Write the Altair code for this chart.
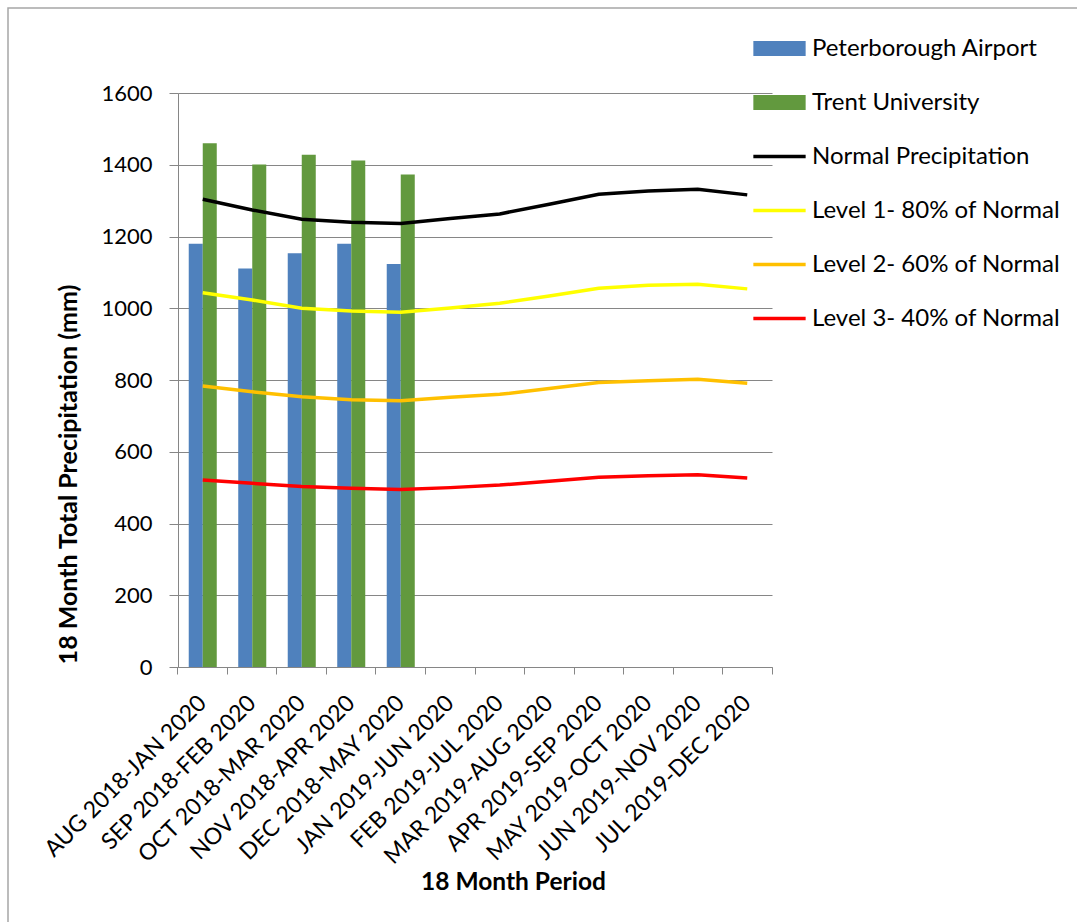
import altair as alt
import pandas as pd

categories = [
    "AUG 2018-JAN 2020", "SEP 2018-FEB 2020", "OCT 2018-MAR 2020",
    "NOV 2018-APR 2020", "DEC 2018-MAY 2020", "JAN 2019-JUN 2020",
    "FEB 2019-JUL 2020", "MAR 2019-AUG 2020", "APR 2019-SEP 2020",
    "MAY 2019-OCT 2020", "JUN 2019-NOV 2020", "JUL 2019-DEC 2020",
]
peterborough = [1180, 1111, 1153, 1180, 1123]
trent = [1460, 1401, 1428, 1412, 1373]
normal = [1304, 1274, 1248, 1240, 1236, 1250, 1263, 1290, 1318, 1327, 1332, 1316]
level1 = [1043, 1023, 1000, 992, 989, 1001, 1014, 1034, 1056, 1064, 1067, 1054]
level2 = [783, 767, 753, 745, 742, 752, 760, 776, 793, 798, 802, 791]
level3 = [521, 512, 503, 498, 495, 500, 507, 518, 529, 533, 536, 527]

bar_series = ["Peterborough Airport", "Trent University"]
line_series = ["Normal Precipitation", "Level 1- 80% of Normal",
               "Level 2- 60% of Normal", "Level 3- 40% of Normal"]
all_series = bar_series + line_series
bar_colors = ["#4F81BD", "#62993E"]
line_colors = ["#000000", "#FFFF00", "#FFC000", "#FF0000"]

rows = []
for name, vals in zip(bar_series, [peterborough, trent]):
    for c, v in zip(categories, vals):
        rows.append({"series": name, "period": c, "value": v})
for name, vals in zip(line_series, [normal, level1, level2, level3]):
    for c, v in zip(categories, vals):
        rows.append({"series": name, "period": c, "value": v})
df = pd.DataFrame(rows)

FONT = "Lato"
GRID = "#868686"
P_IN = 0.434
P_OUT = 0.217
# tick positions at category boundaries, expressed relative to the inner band
edge = (P_IN / 2) / (1 - P_IN)

x_scale = alt.Scale(domain=categories, paddingInner=P_IN, paddingOuter=P_OUT)
y_scale = alt.Scale(domain=[0, 1600], nice=False)
y_axis = alt.Axis(
    values=list(range(0, 1601, 200)), format="d", grid=True, gridColor=GRID, gridWidth=1,
    domainColor=GRID, tickColor=GRID, tickSize=9, labelPadding=17,
    labelFont=FONT, labelFontSize=22, labelColor="#000000",
    title="18 Month Total Precipitation (mm)", titleFont=FONT, titleFontSize=25,
    titleFontWeight="bold", titleColor="#000000", titleAngle=270,
    titleX=-110, titleY=381, titleAlign="center", titleBaseline="middle",
)

bar_path = "M-1,-0.29H1V0.29H-1Z"
line_path = "M-1,-0.065H1V0.065H-1Z"
legend = alt.Legend(
    orient="none", legendX=575, legendY=-71, title=None,
    symbolSize=2735, symbolStrokeWidth=0, symbolOpacity=1,
    labelFont=FONT, labelFontSize=24, labelColor="#000000", labelLimit=400,
    rowPadding=15, labelOffset=6, padding=0,
)

bars = alt.Chart(df).transform_filter(
    alt.FieldOneOfPredicate(field="series", oneOf=bar_series)
).mark_bar().encode(
    x=alt.X("period:N", scale=x_scale, sort=categories,
            axis=alt.Axis(orient="bottom", labelAngle=-45, labelAlign="right",
                          labelBaseline="middle", labelFont=FONT, labelFontSize=23,
                          labelColor="#000000", ticks=False, tickSize=0, domain=False,
                          grid=False, labelPadding=32, labelLimit=400,
                          title="18 Month Period", titleFont=FONT, titleFontSize=24.5,
                          titleFontWeight="bold", titleColor="#000000",
                          titleX=335, titleY=222, titleAlign="center",
                          titleBaseline="alphabetic")),
    xOffset=alt.XOffset("series:N", scale=alt.Scale(domain=bar_series, paddingInner=0, paddingOuter=0)),
    y=alt.Y("value:Q", scale=y_scale, axis=y_axis),
    fill=alt.Fill("series:N", scale=alt.Scale(domain=bar_series, range=bar_colors), legend=None),
)

lines = alt.Chart(df).transform_filter(
    alt.FieldOneOfPredicate(field="series", oneOf=line_series)
).mark_line(strokeWidth=3.5).encode(
    x=alt.X("period:N", scale=x_scale, sort=categories,
            axis=alt.Axis(orient="bottom", bandPosition=-edge, labels=False, ticks=True,
                          tickSize=7, tickColor=GRID, domain=True, domainColor=GRID,
                          grid=False, title=None)),
    y=alt.Y("value:Q", scale=y_scale, axis=y_axis),
    stroke=alt.Stroke("series:N", scale=alt.Scale(domain=line_series, range=line_colors), legend=None),
    detail="series:N",
)

legend_pts = alt.Chart(df).transform_filter("false").mark_point(
    filled=True, opacity=1, strokeWidth=0
).encode(
    x=alt.X("period:N", scale=x_scale, sort=categories,
            axis=alt.Axis(orient="bottom", bandPosition=1 + edge, values=[categories[-1]],
                          labels=False, ticks=True, tickSize=7, tickColor=GRID,
                          domain=False, grid=False, title=None)),
    y=alt.Y("value:Q", scale=y_scale, axis=y_axis),
    color=alt.Color("series:N", scale=alt.Scale(domain=all_series, range=bar_colors + line_colors), legend=legend),
    shape=alt.Shape("series:N", scale=alt.Scale(domain=all_series, range=[bar_path, bar_path] + [line_path] * 4), legend=legend),
)

frame = alt.Chart(pd.DataFrame({"a": [0]})).mark_rect(
    fillOpacity=0, stroke="#A6A6A6", strokeWidth=1.5
).encode(
    x=alt.value(-170), x2=alt.value(910), y=alt.value(-85), y2=alt.value(840)
)

chart = alt.layer(frame, bars, lines, legend_pts).resolve_axis(x="independent").properties(
    width=594, height=574,
    padding={"left": 178, "top": 93, "right": 305, "bottom": 255},
    autosize="none",
    background="#FFFFFF",
).configure_view(stroke=None)

chart.save("out.html", embed_options={"renderer": "svg", "actions": False})
